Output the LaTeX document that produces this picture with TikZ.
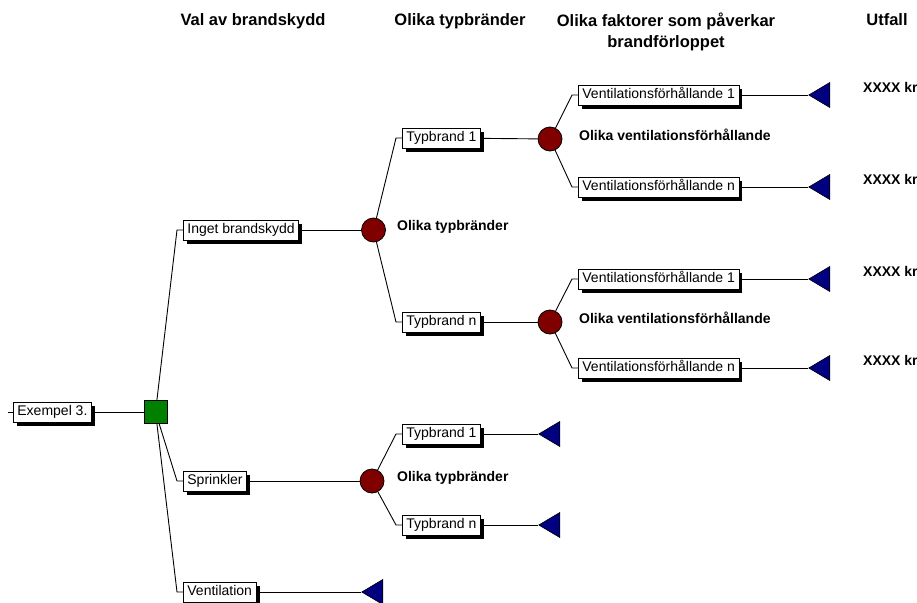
\documentclass[tikz,border=0pt]{standalone}
\usepackage{fontspec}
\setmainfont{Liberation Sans}
\usetikzlibrary{shapes.geometric,shadows}
\definecolor{decgreen}{RGB}{0,128,0}
\definecolor{chancered}{RGB}{128,0,0}
\definecolor{endblue}{RGB}{0,0,128}
\tikzset{
  branch/.style={draw, fill=white, line width=0.8pt, anchor=west,
    font=\fontsize{14}{16}\selectfont, inner xsep=4pt, inner ysep=0pt,
    minimum height=20pt, text height=10.5pt, text depth=3pt,
    drop shadow={fill=black, opacity=1, shadow xshift=3.5pt, shadow yshift=-3.5pt}},
  decision/.style={draw, fill=decgreen, line width=0.8pt, minimum size=23pt, inner sep=0pt},
  chance/.style={circle, draw, fill=chancered, line width=0.8pt, minimum size=24pt, inner sep=0pt},
  endnode/.style={isosceles triangle, shape border rotate=180, isosceles triangle stretches,
    draw, fill=endblue, line width=0.6pt, minimum width=25pt, minimum height=21pt,
    inner sep=0pt, anchor=apex},
  lbl/.style={font=\fontsize{14}{16}\selectfont\bfseries, anchor=base west, inner sep=0pt},
  head/.style={font=\fontsize{16.5}{21}\selectfont\bfseries, align=center, anchor=north, inner sep=0pt}
}
\begin{document}
\begin{tikzpicture}[x=1pt, y=-1pt]
      \useasboundingbox (0,0) rectangle (917,602);
      \node[head] (h1) at (253,13) {Val av brandskydd};
      \node[head] (h2) at (460,13) {Olika typbränder};
      \node[head] (h3) at (666,13) {Olika faktorer som påverkar\\brandförloppet};
      \node[head] (h4) at (887,13) {Utfall};
      \coordinate (ex0) at (8,412);
      \node[branch] (ex) at (13,412) {Exempel 3.};
      \node[decision] (d0) at (155.5,412) {};
      \node[branch] (ib) at (183,230) {Inget brandskydd};
      \node[branch] (sp) at (183,481) {Sprinkler};
      \node[branch] (ve) at (183,592) {Ventilation};
      \node[chance] (c1) at (373.5,230) {};
      \node[chance] (c4) at (372,481) {};
      \node[endnode] (e9) at (361,592) {};
      \node[lbl] (l1) at (397,230) {Olika typbränder};
      \node[lbl] (l4) at (397,481) {Olika typbränder};
      \node[branch] (t1) at (402,138) {Typbrand 1};
      \node[branch] (tn) at (402,322) {Typbrand n};
      \node[branch] (s1) at (402,434) {Typbrand 1};
      \node[branch] (sn) at (402,525) {Typbrand n};
      \node[chance] (c2) at (550,139) {};
      \node[chance] (c3) at (550,322) {};
      \node[endnode] (e5) at (538,434) {};
      \node[endnode] (e6) at (538,525) {};
      \node[lbl] (l2) at (579,140) {Olika ventilationsförhållande};
      \node[lbl] (l3) at (579,323) {Olika ventilationsförhållande};
      \node[branch] (v1) at (578,95) {Ventilationsförhållande 1};
      \node[branch] (v2) at (578,187) {Ventilationsförhållande n};
      \node[branch] (v3) at (578,279) {Ventilationsförhållande 1};
      \node[branch] (v4) at (578,368) {Ventilationsförhållande n};
      \node[endnode] (e1) at (808,95) {};
      \node[endnode] (e2) at (808,187) {};
      \node[endnode] (e3) at (808,279) {};
      \node[endnode] (e4) at (808,368) {};
      \node[lbl] (k1) at (863,92) {XXXX kr};
      \node[lbl] (k2) at (863,184) {XXXX kr};
      \node[lbl] (k3) at (863,276) {XXXX kr};
      \node[lbl] (k4) at (863,365) {XXXX kr};
      \begin{scope}[line width=0.9pt]
        \draw (ex0) to (ex);
        \draw (ex) to (d0);
        \draw (d0) to ([xshift=-6pt]ib.west) to (ib.west);
        \draw (d0) to ([xshift=-6pt]sp.west) to (sp.west);
        \draw (d0) to ([xshift=-6pt]ve.west) to (ve.west);
        \draw (ib) to (c1);
        \draw (sp) to (c4);
        \draw (ve) to (e9);
        \draw (c1) to ([xshift=-6pt]t1.west) to (t1.west);
        \draw (c1) to ([xshift=-6pt]tn.west) to (tn.west);
        \draw (c4) to ([xshift=-6pt]s1.west) to (s1.west);
        \draw (c4) to ([xshift=-6pt]sn.west) to (sn.west);
        \draw (t1) to (c2);
        \draw (tn) to (c3);
        \draw (s1) to (e5);
        \draw (sn) to (e6);
        \draw (c2) to ([xshift=-6pt]v1.west) to (v1.west);
        \draw (c2) to ([xshift=-6pt]v2.west) to (v2.west);
        \draw (c3) to ([xshift=-6pt]v3.west) to (v3.west);
        \draw (c3) to ([xshift=-6pt]v4.west) to (v4.west);
        \draw (v1) to (e1);
        \draw (v2) to (e2);
        \draw (v3) to (e3);
        \draw (v4) to (e4);
      \end{scope}
    \end{tikzpicture}
\end{document}
